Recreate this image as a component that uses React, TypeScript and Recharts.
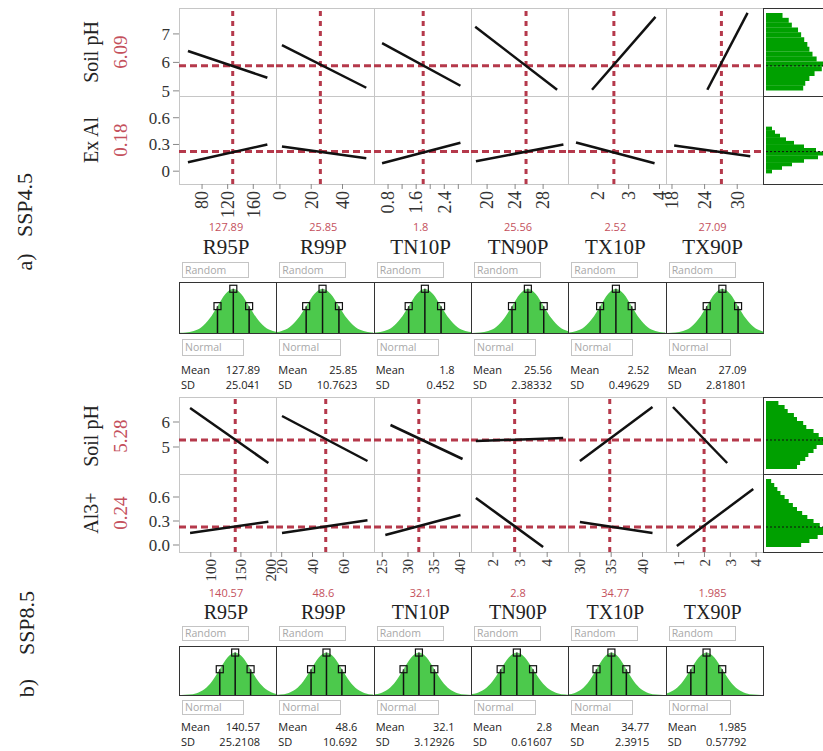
import React from "react";
import {
  LineChart,
  Line,
  XAxis,
  YAxis,
  ReferenceLine,
  BarChart,
  Bar,
  ComposedChart,
  Area,
  Scatter,
} from "recharts";

// --- Data ---

const factors = ["R95P", "R99P", "TN10P", "TN90P", "TX10P", "TX90P"];

// a) SSP4.5
const ssp45Responses = ["Soil pH", "Ex Al"];
const ssp45Predicted = [6.09, 0.18];
const ssp45Means = [127.89, 25.85, 1.8, 25.56, 2.52, 27.09];
const ssp45SDs = [25.041, 10.7623, 0.452, 2.38332, 0.49629, 2.81801];
const ssp45XDomains = [[44, 196], [-2.5, 59.7], [0.4, 3.17], [17.7, 31.6], [1.03, 4.19], [16.9, 34.8]];
const ssp45XTicks = [[80, 120, 160], [0, 20, 40], [0.8, 1.6, 2.4], [20, 24, 28], [2, 3, 4], [18, 24, 30]];
const ssp45XMinor = [[], [], [1.2, 2.0, 2.8], [], [], []];
// profile lines [x1, y1, x2, y2]
const ssp45PhLines = [
  [58, 6.4, 182, 5.46],
  [1.3, 6.61, 55.2, 5.11],
  [0.63, 6.68, 2.86, 5.18],
  [18.3, 7.25, 30.0, 5.04],
  [1.81, 5.04, 3.87, 7.6],
  [24.5, 5.04, 31.9, 7.74],
];
const ssp45AlLines = [
  [58, 0.1, 182, 0.3],
  [1.3, 0.278, 55.2, 0.144],
  [0.63, 0.089, 2.86, 0.32],
  [18.4, 0.111, 30.9, 0.3],
  [1.29, 0.322, 3.84, 0.089],
  [18.4, 0.289, 32.4, 0.167],
];
const ssp45PhDomain = [4.82, 7.91];
const ssp45PhTicks = [5, 6, 7];
const ssp45AlDomain = [-0.144, 0.844];
const ssp45AlTicks = [0, 0.3, 0.6];
const ssp45PhRef = 5.88;
const ssp45AlRef = 0.22;
const ssp45PhBins = [7.65, 7.48, 7.31, 7.14, 6.97, 6.8, 6.63, 6.46, 6.29, 6.12, 5.95, 5.78, 5.61, 5.44, 5.27, 5.1];
const ssp45PhCounts = [16, 22, 25, 31, 34, 37, 40, 42, 45, 49, 58, 54, 47, 42, 38, 36];
const ssp45AlBins = [0.48, 0.44, 0.4, 0.36, 0.32, 0.28, 0.24, 0.2, 0.16, 0.12, 0.08, 0.04, 0.0];
const ssp45AlCounts = [6, 9, 14, 20, 28, 38, 50, 62, 52, 38, 26, 16, 6];
const ssp45DistDomains = [[-3.37, 2.72], [-2.78, 3.1], [-3.08, 2.87], [-3.52, 2.55], [-2.97, 3.13], [-3.53, 2.61]];

// b) SSP8.5
const ssp85Responses = ["Soil pH", "Al3+"];
const ssp85Predicted = [5.28, 0.24];
const ssp85Means = [140.57, 48.6, 32.1, 2.8, 34.77, 1.985];
const ssp85SDs = [25.2108, 10.692, 3.12926, 0.61607, 2.3915, 0.57792];
const ssp85XDomains = [[47.2, 208.8], [16.3, 79.5], [23.4, 42.3], [1.19, 4.78], [28.1, 43.65], [0.51, 4.28]];
const ssp85XTicks = [[100, 150, 200], [20, 40, 60], [25, 30, 35, 40], [2, 3, 4], [30, 35, 40], [1, 2, 3, 4]];
const ssp85XMinor = [[], [], [], [], [], []];
const ssp85PhLines = [
  [65.6, 6.56, 195.6, 4.36],
  [20.2, 6.24, 75.7, 4.44],
  [26.6, 5.88, 40.6, 4.52],
  [1.37, 5.24, 4.59, 5.36],
  [30.0, 4.44, 41.6, 6.6],
  [0.78, 6.6, 2.88, 4.36],
];
const ssp85AlLines = [
  [65.6, 0.15, 195.6, 0.29],
  [20.2, 0.15, 75.7, 0.31],
  [25.6, 0.125, 40.2, 0.375],
  [1.37, 0.5875, 3.85, -0.025],
  [30.0, 0.2875, 41.6, 0.15],
  [0.93, -0.0125, 3.89, 0.7],
];
const ssp85PhDomain = [3.92, 7.0];
const ssp85PhTicks = [5, 6];
const ssp85AlDomain = [-0.0875, 0.8875];
const ssp85AlTicks = [0, 0.3, 0.6];
const ssp85PhRef = 5.28;
const ssp85AlRef = 0.225;
const ssp85PhBins = [6.76, 6.6, 6.44, 6.28, 6.12, 5.96, 5.8, 5.64, 5.48, 5.32, 5.16, 5.0, 4.84, 4.68, 4.52, 4.36, 4.2];
const ssp85PhCounts = [12, 18, 21, 27, 30, 36, 39, 46, 51, 60, 56, 49, 46, 41, 38, 33, 30];
const ssp85AlBins = [0.8, 0.75, 0.7, 0.65, 0.6, 0.55, 0.5, 0.45, 0.4, 0.35, 0.3, 0.25, 0.2, 0.15, 0.1, 0.05, 0.0];
const ssp85AlCounts = [5, 8, 11, 14, 18, 22, 26, 30, 35, 40, 46, 52, 60, 56, 50, 42, 34];
const ssp85DistDomains = [[-3.58, 2.67], [-3.21, 3.04], [-2.85, 3.4], [-2.77, 3.18], [-2.84, 3.61], [-2.52, 3.62]];

// normal density (in SD units)
const curveZ = [-4, -3.5, -3, -2.5, -2, -1.5, -1, -0.5, 0, 0.5, 1, 1.5, 2, 2.5, 3, 3.5, 4];
const curveD = [0.0003, 0.0022, 0.011, 0.044, 0.135, 0.325, 0.607, 0.882, 1, 0.882, 0.607, 0.325, 0.135, 0.044, 0.011, 0.0022, 0.0003];
const markerZ = [-1, 0, 1];
const markerD = [0.607, 1, 0.607];

// --- Styles ---

const RED = "#b5394b";
const LABEL_RED = "#c4505c";
const SERIF = "'Liberation Serif', 'Times New Roman', serif";
const SANS = "'Open Sans', 'Noto Sans', sans-serif";
const COL_X0 = 179;
const COL_W = 97.33;
const colX = (i: number) => COL_X0 + i * COL_W;

const curve = curveZ.map((z, i) => ({ z, d: curveD[i] }));
const markers = markerZ.map((z, i) => ({ z, d: markerD[i] }));
const span01 = [{ x: 0 }, { x: 1 }];

function RotTick({ x, y, payload, show, size }: any) {
  if (!show) return <g />;
  return (
    <text
      x={x}
      y={y}
      transform={`rotate(-90 ${x} ${y})`}
      textAnchor="end"
      dy="0.35em"
      fontFamily={SERIF}
      fontSize={size}
      fill="#333"
    >
      {String(payload.value)}
    </text>
  );
}

function ProfileCell(props: any) {
  const { x, y, w, h, xDomain, xTicks, xMinor, yDomain, yTicks, yFmt, seg, xRef, yRef, showY, showX, tickFont } = props;
  const yW = showY ? 60 : 0;
  const xH = showX ? 40 : 0;
  const data = [
    { x: seg[0], y: seg[1] },
    { x: seg[2], y: seg[3] },
  ];
  const ticks = [...xTicks, ...xMinor].sort((a: number, b: number) => a - b);
  return (
    <div style={{ position: "absolute", left: x - yW, top: y, width: w + yW, height: h + xH }}>
      <LineChart width={w + yW} height={h + xH} data={data} margin={{ top: 0, right: 0, bottom: 0, left: 0 }}>
        <XAxis
          type="number"
          dataKey="x"
          domain={xDomain}
          allowDataOverflow
          ticks={ticks}
          interval={0}
          hide={!showX}
          height={xH}
          axisLine={false}
          tickLine={{ stroke: "#888" }}
          tickSize={5}
          tickMargin={2}
          tick={(p: any) => <RotTick {...p} size={tickFont} show={xTicks.includes(p.payload.value)} />}
        />
        <YAxis
          type="number"
          domain={yDomain}
          allowDataOverflow
          ticks={yTicks}
          interval={0}
          hide={!showY}
          width={yW}
          axisLine={false}
          tickLine={{ stroke: "#888" }}
          tickSize={6}
          tickMargin={3}
          tickFormatter={yFmt}
          tick={{ fontFamily: SERIF, fontSize: 17, fill: "#333" }}
        />
        <ReferenceLine x={xRef} stroke={RED} strokeWidth={3} strokeDasharray="5 5" />
        <ReferenceLine y={yRef} stroke={RED} strokeWidth={3} strokeDasharray="7 4" />
        <Line type="linear" dataKey="y" stroke="#111" strokeWidth={2.5} dot={false} isAnimationActive={false} />
      </LineChart>
    </div>
  );
}

// horizontal histogram: bins on a category axis (no gaps); mean line drawn on the row's value scale
function Histogram({ top, h, domain, bins, counts, refY }: any) {
  const data = bins.map((v: number, i: number) => ({ v, n: counts[i] }));
  const step = Math.abs(bins[1] - bins[0]);
  const px = h / (domain[1] - domain[0]);
  const hi = bins[0] + step / 2;
  const lo = bins[bins.length - 1] - step / 2;
  const mTop = (domain[1] - hi) * px;
  const mBottom = (lo - domain[0]) * px;
  return (
    <>
      <div style={{ position: "absolute", left: 766, top, width: 62, height: h }}>
        <BarChart
          layout="vertical"
          width={62}
          height={h}
          data={data}
          margin={{ top: mTop, right: 0, bottom: mBottom, left: 0 }}
          barCategoryGap={0}
          barGap={0}
        >
          <XAxis type="number" hide domain={[0, 60]} />
          <YAxis type="category" dataKey="v" hide />
          <Bar dataKey="n" fill="#00a000" isAnimationActive={false} />
        </BarChart>
      </div>
      <div style={{ position: "absolute", left: 766, top, width: 62, height: h }}>
        <LineChart width={62} height={h} data={span01} margin={{ top: 0, right: 0, bottom: 0, left: 0 }}>
          <XAxis type="number" dataKey="x" domain={[0, 1]} hide />
          <YAxis type="number" domain={domain} allowDataOverflow hide />
          <ReferenceLine y={refY} stroke="#111" strokeWidth={1} strokeDasharray="2 2" />
        </LineChart>
      </div>
    </>
  );
}

const Square = ({ cx, cy }: any) => (
  <rect x={cx - 3.5} y={cy - 3.5} width={7} height={7} fill="#fff" fillOpacity={0.15} stroke="#111" strokeWidth={1.2} />
);

function DistBox({ x, y, w, h, domain }: any) {
  return (
    <div style={{ position: "absolute", left: x, top: y, width: w, height: h }}>
      <ComposedChart width={w} height={h} data={curve} margin={{ top: 0, right: 0, bottom: 0, left: 0 }}>
        <XAxis type="number" dataKey="z" domain={domain} allowDataOverflow hide />
        <YAxis type="number" dataKey="d" domain={[0, 1.13]} hide />
        <Area type="monotone" dataKey="d" stroke="none" fill="#4cc94c" fillOpacity={1} isAnimationActive={false} />
        {markers.map((m) => (
          <ReferenceLine
            key={m.z}
            segment={[
              { x: m.z, y: 0 },
              { x: m.z, y: m.d },
            ]}
            stroke="#111"
            strokeWidth={1.5}
          />
        ))}
        <Scatter data={markers} dataKey="d" shape={<Square />} isAnimationActive={false} />
      </ComposedChart>
    </div>
  );
}

function Txt({ x, y, children, size, color, font, rotate, anchor }: any) {
  const tx = anchor === "end" ? "-100%" : anchor === "start" ? "0" : "-50%";
  return (
    <div
      style={{
        position: "absolute",
        left: x,
        top: y,
        transform: `translate(${tx}, -50%)${rotate ? " rotate(-90deg)" : ""}`,
        transformOrigin: "center",
        whiteSpace: "nowrap",
        fontFamily: font || SERIF,
        fontSize: size,
        color: color || "#222",
        lineHeight: 1,
      }}
    >
      {children}
    </div>
  );
}

function Field({ x, y, w, h, text }: any) {
  return (
    <div
      style={{
        position: "absolute",
        left: x,
        top: y,
        width: w,
        height: h,
        boxSizing: "border-box",
        border: "1px solid #c4c4c4",
        fontFamily: SANS,
        fontSize: 10.5,
        color: "#a8a8a8",
        lineHeight: `${h - 2}px`,
        paddingLeft: 2,
      }}
    >
      {text}
    </div>
  );
}

function Panel({ d, L }: any) {
  const rowTops = [L.gridTop, L.gridTop + L.rowH[0]];
  const rows = [
    { domain: d.phDomain, ticks: d.phTicks, fmt: (v: number) => String(v), segs: d.phLines, ref: d.phRef, bins: d.phBins, counts: d.phCounts },
    { domain: d.alDomain, ticks: d.alTicks, fmt: d.alFmt, segs: d.alLines, ref: d.alRef, bins: d.alBins, counts: d.alCounts },
  ];
  return (
    <>
      {rows.map((r, ri) =>
        factors.map((f, ci) => (
          <div
            key={`f${ri}${ci}`}
            style={{
              position: "absolute",
              left: colX(ci),
              top: rowTops[ri],
              width: COL_W + 1,
              height: L.rowH[ri] + 1,
              boxSizing: "border-box",
              border: "1px solid #c6c6c6",
            }}
          />
        ))
      )}
      {rows.map((r, ri) => (
        <div
          key={`hb${ri}`}
          style={{
            position: "absolute",
            left: 763,
            top: rowTops[ri],
            width: 80,
            height: L.rowH[ri] + 1,
            boxSizing: "border-box",
            border: "1.5px solid #333",
          }}
        />
      ))}
      {rows.map((r, ri) => (
        <React.Fragment key={`r${ri}`}>
          <Txt x={91} y={rowTops[ri] + L.rowH[ri] / 2} size={20} rotate>
            {d.responses[ri]}
          </Txt>
          <Txt x={120} y={rowTops[ri] + L.rowH[ri] / 2} size={19} color={LABEL_RED} rotate>
            {String(d.predicted[ri])}
          </Txt>
          {factors.map((f, ci) => (
            <ProfileCell
              key={f}
              x={colX(ci)}
              y={rowTops[ri]}
              w={COL_W}
              h={L.rowH[ri]}
              xDomain={d.xDomains[ci]}
              xTicks={d.xTicks[ci]}
              xMinor={d.xMinor[ci]}
              yDomain={r.domain}
              yTicks={r.ticks}
              yFmt={r.fmt}
              seg={r.segs[ci]}
              xRef={d.means[ci]}
              yRef={r.ref}
              showY={ci === 0}
              showX={ri === 1}
              tickFont={L.tickFont}
            />
          ))}
          <Histogram top={rowTops[ri]} h={L.rowH[ri]} domain={r.domain} bins={r.bins} counts={r.counts} refY={r.ref} />
        </React.Fragment>
      ))}
      {factors.map((f, ci) => (
        <React.Fragment key={`s${ci}`}>
          <Txt x={colX(ci) + 47} y={L.redY} size={11} font={SANS} color={LABEL_RED}>
            {String(d.means[ci])}
          </Txt>
          <Txt x={colX(ci) + 47} y={L.nameY} size={L.nameFont}>
            {f}
          </Txt>
          <Field x={colX(ci) + 3} y={L.randTop} w={67} h={L.randH} text="Random" />
          <div
            style={{
              position: "absolute",
              left: colX(ci),
              top: L.distTop,
              width: COL_W + 1,
              height: L.distH,
              boxSizing: "border-box",
              border: "1px solid #333",
            }}
          />
          <DistBox x={colX(ci) + 1} y={L.distTop + 1} w={COL_W - 1} h={L.distH - 2} domain={d.distDomains[ci]} />
          <Field x={colX(ci) + 3} y={L.normTop} w={62} h={L.normH} text="Normal" />
          <Txt x={colX(ci) + 2} y={L.meanY} size={11} font={SANS} anchor="start">
            Mean
          </Txt>
          <Txt x={colX(ci) + 81} y={L.meanY} size={11} font={SANS} anchor="end">
            {String(d.means[ci])}
          </Txt>
          <Txt x={colX(ci) + 2} y={L.sdY} size={11} font={SANS} anchor="start">
            SD
          </Txt>
          <Txt x={colX(ci) + 81} y={L.sdY} size={11} font={SANS} anchor="end">
            {String(d.sds[ci])}
          </Txt>
        </React.Fragment>
      ))}
    </>
  );
}

const panelA = {
  responses: ssp45Responses,
  predicted: ssp45Predicted,
  means: ssp45Means,
  sds: ssp45SDs,
  xDomains: ssp45XDomains,
  xTicks: ssp45XTicks,
  xMinor: ssp45XMinor,
  phLines: ssp45PhLines,
  alLines: ssp45AlLines,
  phDomain: ssp45PhDomain,
  phTicks: ssp45PhTicks,
  alDomain: ssp45AlDomain,
  alTicks: ssp45AlTicks,
  alFmt: (v: number) => String(v),
  phRef: ssp45PhRef,
  alRef: ssp45AlRef,
  phBins: ssp45PhBins,
  phCounts: ssp45PhCounts,
  alBins: ssp45AlBins,
  alCounts: ssp45AlCounts,
  distDomains: ssp45DistDomains,
};

const panelB = {
  responses: ssp85Responses,
  predicted: ssp85Predicted,
  means: ssp85Means,
  sds: ssp85SDs,
  xDomains: ssp85XDomains,
  xTicks: ssp85XTicks,
  xMinor: ssp85XMinor,
  phLines: ssp85PhLines,
  alLines: ssp85AlLines,
  phDomain: ssp85PhDomain,
  phTicks: ssp85PhTicks,
  alDomain: ssp85AlDomain,
  alTicks: ssp85AlTicks,
  alFmt: (v: number) => v.toFixed(1),
  phRef: ssp85PhRef,
  alRef: ssp85AlRef,
  phBins: ssp85PhBins,
  phCounts: ssp85PhCounts,
  alBins: ssp85AlBins,
  alCounts: ssp85AlCounts,
  distDomains: ssp85DistDomains,
};

const layoutA = { gridTop: 8, rowH: [88, 88], tickFont: 18, redY: 226, nameY: 247, nameFont: 21, randTop: 262, randH: 16, distTop: 282, distH: 52, normTop: 339, normH: 17, meanY: 369, sdY: 384 };
const layoutB = { gridTop: 397, rowH: [77, 78], tickFont: 15, redY: 592, nameY: 612, nameFont: 20, randTop: 626, randH: 15, distTop: 646, distH: 50, normTop: 700, normH: 15, meanY: 726, sdY: 741 };

export default function App() {
  return (
    <div style={{ position: "absolute", left: 0, top: 0, width: 823, height: 751, overflow: "hidden", background: "#fff" }}>
      <style>{`.recharts-surface{overflow:visible}`}</style>
      <Txt x={25} y={205} size={22} rotate>
        SSP4.5
      </Txt>
      <Txt x={25} y={262} size={22} rotate>
        a)
      </Txt>
      <Txt x={27} y={623} size={22} rotate>
        SSP8.5
      </Txt>
      <Txt x={27} y={688} size={22} rotate>
        b)
      </Txt>
      <Panel d={panelA} L={layoutA} />
      <Panel d={panelB} L={layoutB} />
    </div>
  );
}
